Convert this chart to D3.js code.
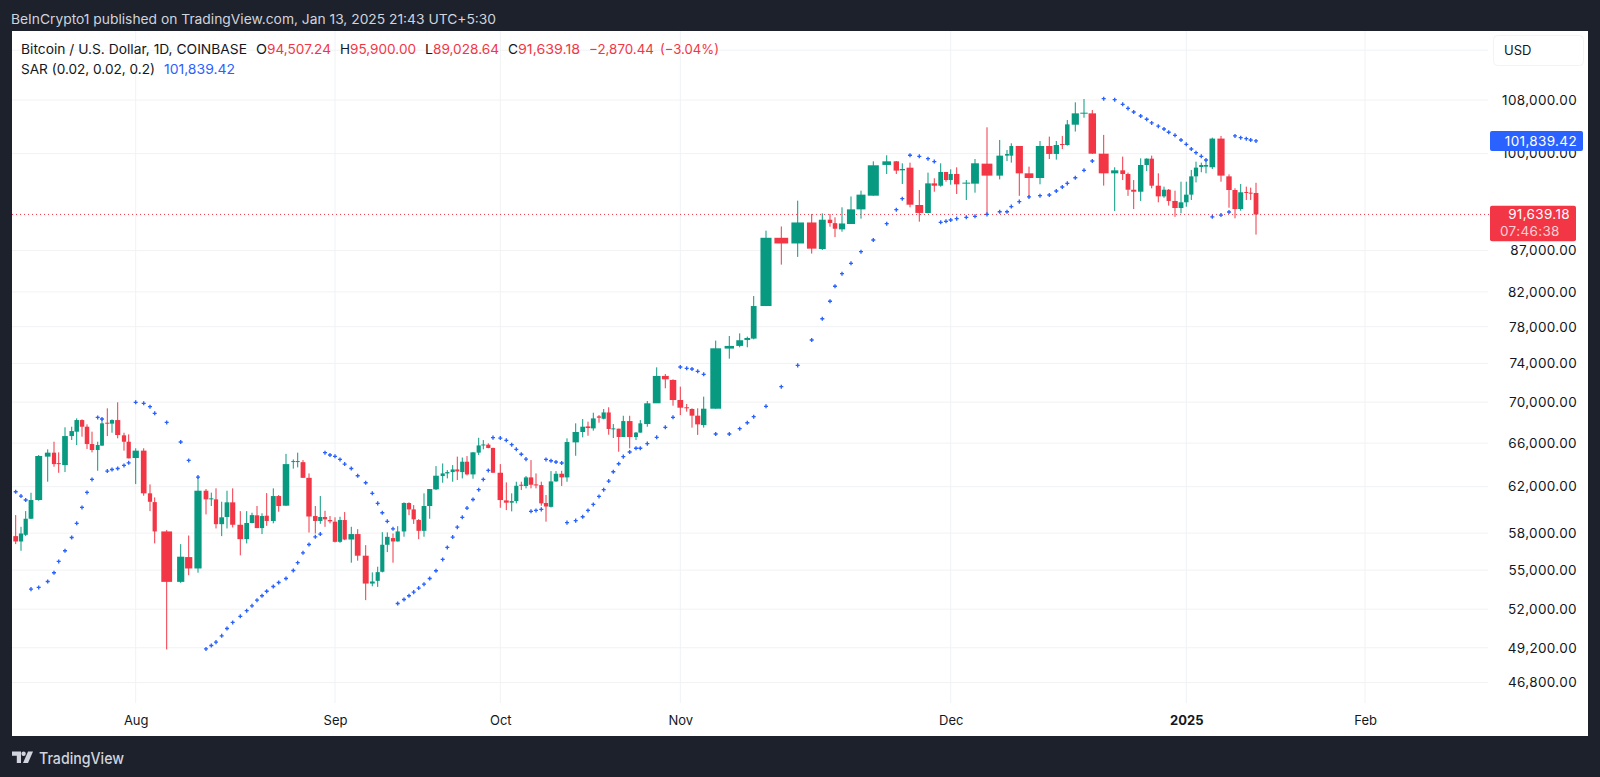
<!DOCTYPE html>
<html><head><meta charset="utf-8">
<script src="https://cdn.jsdelivr.net/npm/d3@7/dist/d3.min.js"></script>
<style>
html,body{margin:0;padding:0;background:#1d212c;overflow:hidden}
svg{display:block}
text{font-family:Inter,"Noto Sans",sans-serif}
</style></head><body>
<svg id="c" width="1600" height="777"></svg>
<script>
// ---- data: Bitcoin / U.S. Dollar daily candles, 2024-07-11 .. 2025-01-13 ----
const firstDay = "2024-07-11";
const opens = [57750,57310,57860,59210,60820,64730,65100,64130,63950,66670,
67090,68220,67570,65910,65350,65760,67960,67870,68220,66740,
66130,64600,65290,61410,60640,58140,54080,56040,55130,61640,
60880,60880,58750,59360,60620,58700,57500,58850,59500,58420,
59470,59020,61170,60330,64230,64230,64220,62790,59440,59020,
59360,59100,58960,57280,59100,57470,57920,56150,53950,54160,
54870,57040,57590,57310,58140,60560,60010,59100,58190,60300,
61760,62950,63190,63310,63550,63310,64260,63100,65100,65780,
65850,65540,63250,60790,60590,60730,62170,62060,62830,62200,
62140,60560,60230,62470,63160,62830,66070,67060,67600,67410,
68580,68350,68970,67350,67380,66580,68120,66580,67000,67830,
69880,72680,72260,70210,69480,69310,68650,67730,69340,75590,
75880,76530,76680,80350,88620,87900,90590,87200,90950,90500,
89700,90390,92310,94140,98390,98900,97630,98000,92890,91830,
95820,95500,97400,96280,97120,95780,95780,98570,96890,99710,
99710,101100,97210,96560,101100,99950,101390,101240,104240,105900,
105950,99990,97210,97630,97120,94950,94680,98380,99280,95500,
94050,94950,93430,92490,93250,94280,96790,98100,98150,98060,
102180,96790,94910,92350,94640,94550,94507.24];
const highs = [59525,58530,59865,61460,64880,65410,66130,65130,67510,67570,
68385,68285,67800,67090,66130,68385,69380,68285,69980,66990,
66830,65510,65510,62200,61050,58250,57090,57800,62890,61790,
61470,61850,60670,61640,61850,59860,59860,59720,60300,59670,
61430,61850,61260,64990,64470,65100,64410,63190,60300,61170,
59890,59440,59330,59380,59780,58530,58330,57010,54820,55270,
58080,58060,57970,58580,60620,60620,60380,59180,61410,61790,
63860,64100,63490,63950,64730,64650,64780,65160,66510,66290,
65980,65570,64040,62380,61410,62440,62440,62950,64410,63190,
62440,61260,63400,63400,63430,66450,67900,68320,68060,68940,
68710,69310,69480,67830,67380,68640,68640,67060,68220,70110,
73580,72880,72330,71570,69810,69380,69380,70550,76460,76970,
77260,76900,81510,89530,90070,93470,91700,91780,91700,91260,
92580,94040,94820,98900,99760,98950,98620,98710,94910,97310,
96520,98620,97400,97770,98050,96280,99230,103850,101980,100520,
101490,101100,98150,101830,102470,101830,102570,104940,107640,108150,
106460,102720,98060,99570,97310,96280,99330,99330,99710,97210,
95370,95040,94820,96050,96050,97680,98850,98710,99090,102320,
102570,97070,95140,95730,95370,95230,95900];
const lows = [57090,56550,57750,59185,60760,62440,63800,63250,63310,66290,
65820,66610,65445,65130,63430,65760,66670,66990,66450,65290,
64570,62230,61200,59860,57150,49080,54000,54600,54800,59580,
60300,58390,57750,58390,58470,56180,57150,58820,58420,57920,
58610,58820,59810,60300,63620,63740,62790,58050,57970,58780,
58530,58820,57230,57200,57420,55590,55750,52680,53740,53690,
54820,56440,55590,57310,57700,59520,58770,57500,57700,59210,
61700,62350,62740,62440,62590,62740,63010,62710,64880,65410,
65510,63250,60150,59950,59840,60530,61700,61850,61850,61850,
60320,58960,60170,62440,62060,62440,64810,66550,66700,67190,
67960,68290,66800,66480,65190,66580,65510,66290,67000,67570,
69980,71400,69640,68710,69050,67480,66780,67480,69340,74500,
75730,75730,76600,80350,85270,86220,86630,87080,90040,88710,
89400,90390,91090,94140,97120,97120,95730,92580,90690,91780,
94680,95360,96050,95640,94370,93560,94550,91570,96370,98950,
98710,94120,93860,95690,99230,99140,100660,101150,103220,105290,
99950,95510,92090,96280,94120,92350,93430,97540,95140,93250,
93860,92810,91330,91790,92660,93560,95950,97360,97210,97820,
96050,92530,91130,92130,93560,93560,89028.64];
const closes = [57310,57970,59210,60820,64790,65100,64040,64040,66670,67150,
68220,67570,65910,65350,65820,67900,67870,68220,66770,66130,
64570,65290,61410,60670,58140,54080,56070,55130,61640,60880,
60970,58750,59330,60620,58700,57500,58850,59520,58420,59440,
59020,61170,60300,64040,64320,64320,62790,59400,59020,59360,
59160,58990,57280,59100,57470,57920,56150,53950,54110,54840,
57040,57690,57310,58140,60560,60010,59160,58190,60300,61790,
62980,63190,63310,63550,63370,64260,63100,65130,65780,65870,
65540,63250,60820,60590,60730,62080,62080,62830,62170,62110,
60530,60260,62470,63160,62830,66100,67060,67570,67440,68380,
68450,68970,67350,67410,66580,68120,66580,67000,67900,69880,
72680,72330,70210,69440,69380,68650,67800,69340,75620,75880,
76500,76750,80350,88620,87900,90590,87250,90950,90520,89780,
90460,92310,94280,98340,98900,97590,97820,92930,91840,95820,
95500,97400,96280,97120,95690,95920,98620,96890,99710,99950,
101100,97210,96560,101100,99950,101240,101240,104290,105950,106050,
99990,97210,97630,97120,94950,94680,98380,99280,95500,94050,
94950,93430,92490,93250,94280,96790,98010,98380,98380,102180,
96890,94910,92350,94600,94510,94420,91639.18];
const sarValues = [61550,61170,60820,53520,53650,54110,54790,55690,56550,57640,
58820,60180,61490,62650,68480,68320,63400,63550,63640,63920,
64160,69980,69880,69540,68880,67990,66100,64380,62860,49120,
49360,49600,50050,50580,51020,51470,51890,52250,52680,53010,
53360,53720,54030,54340,54970,55590,56380,57060,57690,57920,
65100,64880,64760,64470,64040,63640,62980,62350,61410,60530,
59720,58990,58360,52430,52730,53010,53290,53600,53900,54340,
54950,55850,56820,57670,58500,59330,60120,60870,61730,62650,
63460,66520,66480,66260,65850,65410,64950,64500,59840,59920,
60010,64470,64350,64230,64140,58880,59050,59380,59920,60440,
61140,61730,62500,63340,64070,64730,65160,65510,65510,65950,
66550,67510,68490,73620,73480,73410,73160,72850,66870,66870,
67380,67960,68550,69580,71570,73790,76530,78900,80900,82660,
84170,85430,86870,88340,90430,92270,93740,99760,99610,99280,
98860,90610,90740,90910,91090,91260,91390,91650,92000,92000,
92680,93340,93970,94140,94230,94770,95320,95820,96600,97630,
98950,108210,108050,107330,106710,106160,105550,105050,104500,104020,
103600,103110,102660,101980,101340,100660,100140,99610,99090,91330,
91560,91960,102570,102320,102170,101980,101839.42];
// relative width of the step from one session to the next (the reference has uneven spacing)
const barGaps = [5.3,4.7,5.3,7.7,9,6.3,4.7,6.3,6.7,5,5.3,5,5,5.7,4.3,5.3,4.7,5.7,6.3,4.7,7,8,6.3,4.7,12,14,8,9.3,8,5.3,4.7,5.7,5.3,5.7,7.6,6.4,5.3,5,5,4.7,6.6,5.4,7.3,7.3,4.4,5.3,6,6.3,5,4.7,5,5,
5,4.7,6.6,6.4,8,6.6,5.4,4.6,5,5.7,4.7,6.3,5,4.7,5,5.3,5.7,6.3,6.7,4.6,5.4,4.6,5,4.7,6,5.7,4.6,5,4.7,7.3,6,5.4,4.6,5,4.7,5,5,5.3,4.7,5,5,5.7,5.3,8.7,7,5.3,5.3,5.7,4.7,5,4.6,5.4,4.6,6.4,6.3,4.3,7,9.4,8.6,7.7,7.3,6.4,5.3,5.7,
6,12,13.6,10.4,7.6,6.4,12.3,15.3,16.4,14,10.6,7.7,5,7,9,10,12.3,13.4,9.6,6,7.7,9.3,8.7,6.3,6.4,5.3,4.7,6,
9.6,8.7,12,12.7,7.3,4.3,8,9.7,11,9.3,7,6,5,8,8.7,8.3,11.4,11,8,5.3,5.7,7,6,5,6.6,5.7,4.7,6.3,6,5.3,5,4.7,5.3,4.7,6.3,8.7,8,6,5.7,5.6,4.4,5.3];
const futureGap = 5.74;
const gridPrices = [116000,108000,100000,87000,82000,78000,74000,70000,66000,62000,58000,55000,52000,49200,46800];
const labelPrices = [108000,100000,87000,82000,78000,74000,70000,66000,62000,58000,55000,52000,49200,46800];
const monthDates = ["2024-08-01","2024-09-01","2024-10-01","2024-11-01","2024-12-01","2025-01-01","2025-02-01"];
const monthLabels = ["Aug","Sep","Oct","Nov","Dec","2025","Feb"];
const headerText = "BeInCrypto1 published on TradingView.com, Jan 13, 2025 21:43 UTC+5:30";
const lastClose = 91639.18, lastSar = 101839.42;
const lastCloseLabel = "91,639.18", countdownLabel = "07:46:38", sarLabel = "101,839.42";

// ---- layout ----
const UP = "#089981", DOWN = "#f23645", BLUE = "#2962ff", INK = "#131722", GRID = "#f1f2f4";
const pane = {l:12, t:31, r:1588, b:736}, plot = {r:1488, b:703};
const svg = d3.select("#c");
svg.append("rect").attr("x",pane.l).attr("y",pane.t).attr("width",pane.r-pane.l).attr("height",pane.b-pane.t).attr("fill","#fff");

const cum = d3.cumsum([0].concat(barGaps));
const n = opens.length;
const x = d3.scaleLinear().domain([0,cum[n-1]]).range([15.7,1256]);
const y = d3.scaleLog().domain([108000,46800]).range([100,682.6]);
const dayMs = 864e5, day0 = Date.parse(firstDay);
const pos = i => i<n ? cum[i] : cum[n-1]+(i-n+1)*futureGap;
const monthPos = monthDates.map(d => pos(Math.round((Date.parse(d)-day0)/dayMs)));
const barX = i => x(pos(i));

// gridlines
svg.append("g").selectAll("line").data(gridPrices).join("line")
  .attr("x1",pane.l).attr("x2",plot.r).attr("y1",d=>y(d)).attr("y2",d=>y(d)).attr("stroke",GRID);
svg.append("g").selectAll("line").data(monthPos).join("line")
  .attr("x1",d=>x(d)).attr("x2",d=>x(d)).attr("y1",pane.t).attr("y2",plot.b).attr("stroke",GRID);

// last price line
svg.append("line").attr("x1",pane.l).attr("x2",plot.r+1).attr("y1",y(lastClose)).attr("y2",y(lastClose))
  .attr("stroke",DOWN).attr("stroke-dasharray","1 3");

// candles
const idx = d3.range(n);
const color = i => closes[i]>=opens[i] ? UP : DOWN;
const bodyW = i => {
  const a = i>0 ? barGaps[i-1] : barGaps[0], b = i<n-1 ? barGaps[i] : barGaps[n-2];
  return Math.max(3.2,(x(Math.min(a,b))-x(0))*0.9);
};
const g = svg.append("g");
g.selectAll("line").data(idx).join("line")
  .attr("x1",barX).attr("x2",barX).attr("y1",i=>y(highs[i])).attr("y2",i=>y(lows[i]))
  .attr("stroke",color).attr("stroke-width",1);
g.selectAll("rect").data(idx).join("rect")
  .attr("x",i=>barX(i)-bodyW(i)/2).attr("width",bodyW)
  .attr("y",i=>y(Math.max(opens[i],closes[i])))
  .attr("height",i=>Math.max(1,Math.abs(y(opens[i])-y(closes[i]))))
  .attr("fill",color);

// parabolic SAR
const cross = d3.symbol().type(d3.symbolCross).size(9)();
svg.append("g").selectAll("path").data(idx).join("path")
  .attr("d",cross).attr("fill",BLUE)
  .attr("transform",i=>`translate(${barX(i)},${y(sarValues[i])})`);

// axes
const yAxis = d3.axisRight(y).tickValues(labelPrices).tickSize(0).tickPadding(0)
  .tickFormat(d=>d3.format(",.2f")(d));
const ya = svg.append("g").attr("transform","translate(1577,0)").call(yAxis);
ya.select(".domain").remove();
ya.selectAll("text").attr("text-anchor","end").attr("x",0).attr("fill",INK)
  .style("font-size","13.5px").style("letter-spacing","0.35px").style("font-family","Inter");

const xAxis = d3.axisBottom(x).tickValues(monthPos).tickSize(0).tickPadding(0)
  .tickFormat((d,i)=>monthLabels[i]);
const xa = svg.append("g").attr("transform","translate(0,716)").call(xAxis);
xa.select(".domain").remove();
xa.selectAll("text").attr("fill",INK).attr("y",0)
  .style("font-size","13px").style("font-family","Inter")
  .style("font-weight",(d,i)=>monthLabels[i]==="2025"?700:400);

// price tags
svg.append("rect").attr("x",1490).attr("y",y(lastSar)-10).attr("width",93).attr("height",20).attr("rx",2).attr("fill",BLUE);
svg.append("text").attr("x",1577).attr("y",y(lastSar)).attr("dy","0.35em").attr("text-anchor","end")
  .attr("fill","#fff").style("font-size","13.5px").style("letter-spacing","0.35px").text(sarLabel);
svg.append("rect").attr("x",1490).attr("y",205.7).attr("width",86).attr("height",35.5).attr("rx",2).attr("fill",DOWN);
svg.append("text").attr("x",1570).attr("y",214.5).attr("dy","0.35em").attr("text-anchor","end")
  .attr("fill","#fff").style("font-size","13.5px").style("letter-spacing","0.35px").text(lastCloseLabel);
svg.append("text").attr("x",1500).attr("y",231).attr("dy","0.35em")
  .attr("fill","#fbd0d4").style("font-size","13.5px").style("letter-spacing","0.35px").text(countdownLabel);

// USD box
svg.append("rect").attr("x",1493.5).attr("y",35.5).attr("width",90).attr("height",30).attr("rx",4)
  .attr("fill","#fff").attr("stroke","#f0f3fa");
svg.append("text").attr("x",1504).attr("y",50.5).attr("dy","0.35em").attr("fill",INK).style("font-size","13px").text("USD");

// legend
const legendRow1 = [
 ["Bitcoin / U.S. Dollar, 1D, COINBASE",21,247,INK],["O",256,267,INK],["94,507.24",267,331,DOWN],
 ["H",340,350,INK],["95,900.00",350,416,DOWN],["L",425,433,INK],["89,028.64",433,499,DOWN],
 ["C",508,518,INK],["91,639.18",518,580,DOWN],["−2,870.44",589,654,DOWN],["(−3.04%)",660,719,DOWN]];
const legendRow2 = [["SAR (0.02, 0.02, 0.2)",21,155,INK],["101,839.42",164,235,BLUE]];
const putRow = (row,yy) => svg.append("g").selectAll("text").data(row).join("text")
  .attr("x",d=>d[1]).attr("y",yy).attr("dy","0.35em").attr("fill",d=>d[3])
  .attr("textLength",d=>d[2]-d[1]).attr("lengthAdjust","spacingAndGlyphs")
  .style("font-size","13.5px").text(d=>d[0]);
putRow(legendRow1,49); putRow(legendRow2,69);

// header + footer
svg.append("text").attr("x",11).attr("y",19).attr("dy","0.35em").attr("fill","#d1d4dc")
  .attr("textLength",485).attr("lengthAdjust","spacingAndGlyphs").style("font-size","13px").text(headerText);
const logo = svg.append("g").attr("fill","#d1d4dc");
logo.append("path").attr("d","M12 751.5h9v11.5h-4.2v-7.3H12z");
logo.append("circle").attr("cx",23.6).attr("cy",753.7).attr("r",2.2);
logo.append("path").attr("d","M28 751.5h5l-5 11.5h-5z");
svg.append("text").attr("x",39).attr("y",758).attr("dy","0.35em").attr("fill","#d1d4dc")
  .attr("textLength",85).attr("lengthAdjust","spacingAndGlyphs").style("font-size","16px").style("font-weight",500).text("TradingView");
</script></body></html>
